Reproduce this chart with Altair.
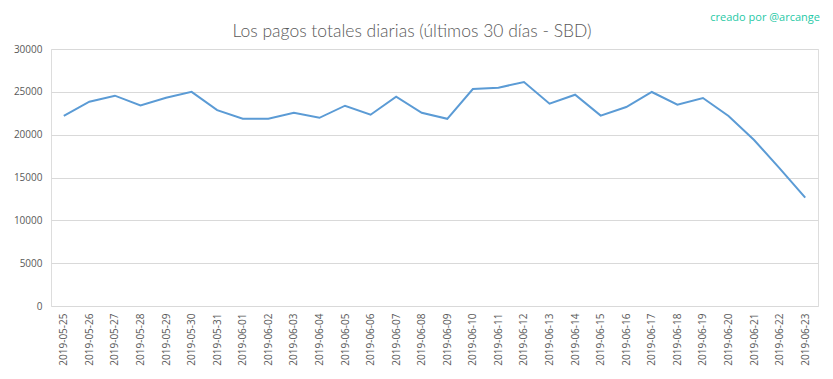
import altair as alt
import pandas as pd

dates = [
    "2019-05-25", "2019-05-26", "2019-05-27", "2019-05-28", "2019-05-29", "2019-05-30",
    "2019-05-31", "2019-06-01", "2019-06-02", "2019-06-03", "2019-06-04", "2019-06-05",
    "2019-06-06", "2019-06-07", "2019-06-08", "2019-06-09", "2019-06-10", "2019-06-11",
    "2019-06-12", "2019-06-13", "2019-06-14", "2019-06-15", "2019-06-16", "2019-06-17",
    "2019-06-18", "2019-06-19", "2019-06-20", "2019-06-21", "2019-06-22", "2019-06-23",
]
payouts = [
    22200, 23850, 24550, 23400, 24300, 25000,
    22870, 21850, 21850, 22560, 21970, 23380,
    22330, 24430, 22560, 21850, 25330, 25480,
    26150, 23620, 24660, 22220, 23230, 24980,
    23500, 24280, 22180, 19380, 16070, 12640,
]
title_text = ["Los pagos totales diarias (últimos 30 días - SBD)"]
credit_text = ["creado por @arcange"]

df = pd.DataFrame({"fecha": dates, "sbd": payouts})

W, H = 767, 257
FONT = "Open Sans"

line = alt.Chart(df).mark_line(color="#5b9bd5", strokeWidth=2).encode(
    x=alt.X("fecha:N", sort=None, title=None,
            axis=alt.Axis(labelAngle=-90, labelFontSize=10, labelColor="#595959",
                          labelFont=FONT, ticks=False, domain=False, grid=False,
                          labelPadding=7)),
    y=alt.Y("sbd:Q", title=None, scale=alt.Scale(domain=[0, 30000], nice=False),
            axis=alt.Axis(values=[0, 5000, 10000, 15000, 20000, 25000, 30000],
                          format="d",
                          labelFontSize=10, labelColor="#595959", labelFont=FONT,
                          ticks=False, domain=False, gridColor="#d9d9d9",
                          labelPadding=9)),
)

title = alt.Chart(pd.DataFrame({"t": title_text})).mark_text(
    align="center", baseline="middle", fontSize=17.5, color="#595959", font="Lato",
    fontWeight=300
).encode(text="t:N", x=alt.value(361), y=alt.value(-17))

credit = alt.Chart(pd.DataFrame({"t": credit_text})).mark_text(
    align="right", baseline="middle", fontSize=11, color="#1fc9a6", font=FONT
).encode(text="t:N", x=alt.value(W + 2), y=alt.value(-31))

chart = alt.layer(line, title, credit).properties(
    width=W, height=H,
    autosize=alt.AutoSizeParams(type="none"),
    padding={"left": 43, "top": 41, "right": 7, "bottom": 62},
).configure_view(stroke=None).configure(background="white")

chart.save("out.html", embed_options={"renderer": "svg", "actions": False})
